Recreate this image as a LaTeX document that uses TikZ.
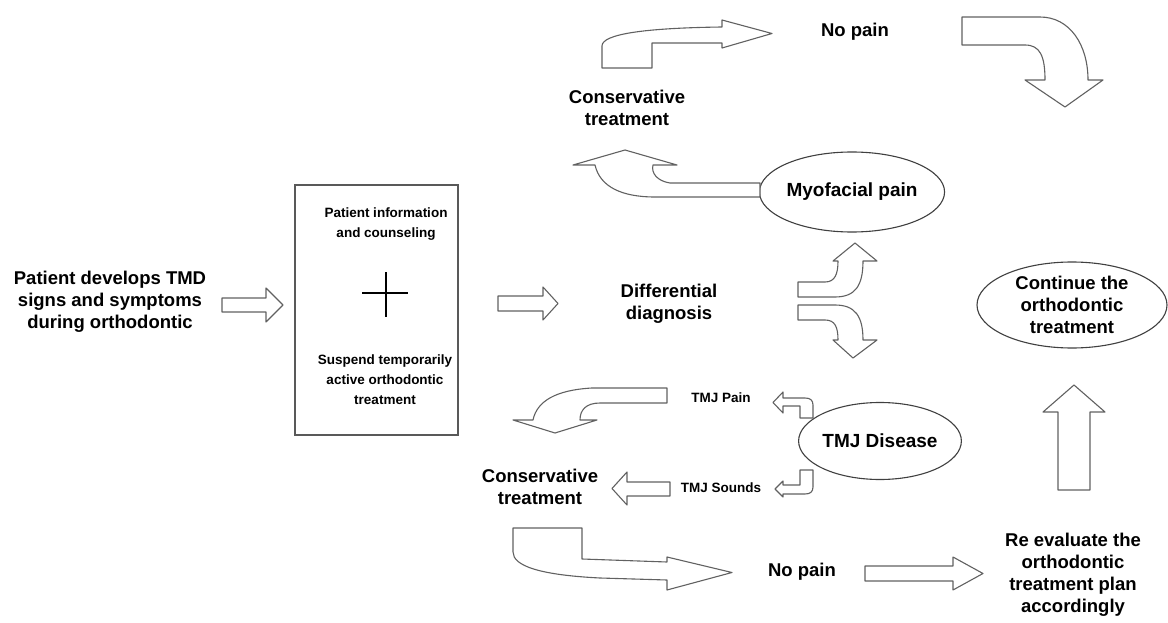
\documentclass[tikz,border=0pt]{standalone}
\usepackage{fontspec}
\setmainfont{Liberation Sans}
\usetikzlibrary{shapes.geometric}
\begin{document}
\begin{tikzpicture}[x=1pt,y=-1pt,
  txt/.style={font=\fontsize{18.5}{22}\selectfont\bfseries, align=center, inner sep=0pt},
  small/.style={font=\fontsize{13.5}{20}\selectfont\bfseries, align=center, inner sep=0pt},
  oval/.style={ellipse, draw=black!75, line width=1.1pt, inner sep=0pt},
  blk/.style={draw=black!62, line width=1.1pt, fill=white, line join=round}]
\useasboundingbox (0,0) rectangle (1168,623);
\fill[white] (0,0) rectangle (1168,623);

% ---- text nodes ----
\node[txt] (patient) at (110,302) {Patient develops TMD\\signs and symptoms\\during orthodontic};
\node[draw=black!65, line width=1.3pt, minimum width=163pt, minimum height=250pt, inner sep=0pt] (box) at (376.5,310) {};
\node[small] (info) at (386,224) {Patient information\\and counseling};
\draw[line width=1.6pt] (362,293) -- (408,293) (386,272) -- (386,317);
\node[small] (suspend) at (385,380) {Suspend temporarily\\active orthodontic\\treatment};
\node[txt] (diff) at (669,304) {Differential\\diagnosis};
\node[oval, minimum width=160pt, minimum height=80pt, font=\fontsize{19}{22}\selectfont\bfseries] (myo) at (852,192) {Myofacial pain};
\node[txt] (cons1) at (627,108) {Conservative\\treatment};
\node[txt] (nopain1) at (855,32) {No pain};
\node[oval, minimum width=190pt, minimum height=86pt, align=center, font=\fontsize{18.5}{22}\selectfont\bfseries] (cont) at (1072,305) {Continue the\\orthodontic\\treatment};
\node[oval, minimum width=146pt, minimum height=77pt, font=\fontsize{19}{22}\selectfont\bfseries] (tmj) at (880,441) {TMJ Disease};
\node[small] (tmjpain) at (721,398) {TMJ Pain};
\node[small] (tmjsounds) at (721,488) {TMJ Sounds};
\node[txt] (cons2) at (540,487) {Conservative\\treatment};
\node[txt] (nopain2) at (802,572) {No pain};
\node[txt] (reeval) at (1073,575) {Re evaluate the\\orthodontic\\treatment plan\\accordingly};

% ---- straight block arrows ----
% patient -> box
\draw[blk] (222,298) -- (266,298) -- (266,288) -- (283,305) -- (266,322) -- (266,312) -- (222,312) -- cycle;
% box -> diff
\draw[blk] (498,296) -- (543,296) -- (543,287) -- (558,303.5) -- (543,320) -- (543,311) -- (498,311) -- cycle;
% tmj sounds -> conservative
\draw[blk] (670,482) -- (627,482) -- (627,472) -- (612,488.5) -- (627,505) -- (627,496) -- (670,496) -- cycle;
% no pain -> re evaluate
\draw[blk] (865,566) -- (953,566) -- (953,557) -- (983,573.5) -- (953,590) -- (953,581) -- (865,581) -- cycle;
% re evaluate -> continue
\draw[blk] (1058,490) -- (1058,412) -- (1043,412) -- (1074,385) -- (1105,412) -- (1090,412) -- (1090,490) -- cycle;

% ---- curved block arrows ----
% conservative (top) -> no pain
\draw[blk] (652,68) -- (652,43) -- (722,43) -- (722,48) -- (772,33.5) -- (722,20) -- (722,27)
  .. controls (645,28) and (602,34) .. (602,46) -- (602,68) -- cycle;
% no pain -> down right
\draw[blk] (962,17) -- (1040,17) .. controls (1070,17) and (1088,45) .. (1088,80) -- (1103,80) -- (1065,107)
  -- (1025,80) -- (1045,80) .. controls (1045,56) and (1040,45) .. (1025,45) -- (962,45) -- cycle;
% myofacial -> conservative (top)
\draw[blk] (760,183) -- (670,183) .. controls (657,181) and (651,173) .. (653,165) -- (677,165) -- (625,150)
  -- (573,165) -- (595,165) .. controls (600,187) and (622,197) .. (655,197) -- (760,197) -- cycle;
% differential split: up
\draw[blk] (798,282) -- (825,282) .. controls (835,282) and (838,274) .. (838,261) -- (833,261) -- (855,243)
  -- (877,261) -- (863,261) .. controls (863,286) and (855,297) .. (835,297) -- (798,297) -- cycle;
% differential split: down
\draw[blk] (798,305) -- (835,305) .. controls (855,305) and (863,316) .. (863,340) -- (877,340) -- (853,358)
  -- (833,340) -- (838,340) .. controls (838,327) and (835,320) .. (825,320) -- (798,320) -- cycle;
% tmj pain -> down left
\draw[blk] (667,388) -- (592,388) .. controls (556,390) and (537,401) .. (533,420) -- (513,420) -- (555,433)
  -- (597,420) -- (580,420) .. controls (580,410) and (586,403) .. (600,403) -- (667,403) -- cycle;
% tmj small up-left
\draw[blk] (813,418) -- (813,405) .. controls (813,400) and (810,398) .. (805,398) -- (783,398) -- (783,392)
  -- (773,402.5) -- (783,413) -- (783,406) -- (800,406) -- (800,418) -- cycle;
% tmj small down-left
\draw[blk] (800,470) -- (813,470) -- (813,487) .. controls (813,492) and (810,494) .. (805,494) -- (783,494)
  -- (783,497) -- (775,489) -- (783,481) -- (783,485) -- (800,485) -- cycle;
% conservative (bottom) -> no pain
\draw[blk] (513,528) -- (582,528) -- (582,559) -- (667,562) -- (667,557) -- (732,572.5) -- (667,590) -- (667,580)
  -- (600,578) .. controls (540,575) and (513,566) .. (513,552) -- cycle;
\end{tikzpicture}
\end{document}
